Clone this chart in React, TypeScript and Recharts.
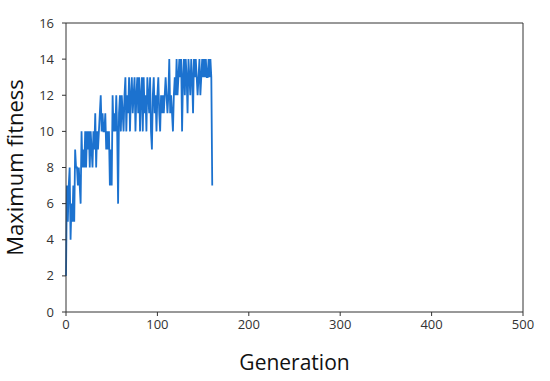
import { LineChart, Line, XAxis, YAxis, ReferenceLine } from "recharts";

// max fitness per generation (gen 0..160)
const fitness = [
  2, 7, 5, 7, 8, 4, 6, 5, 7, 5, 9, 8, 8, 7, 8, 7, 6, 10, 8, 9,
  8, 10, 8, 10, 9, 10, 8, 10, 9, 8, 10, 9, 11, 8, 10, 9, 10, 11, 12, 10,
  11, 10, 10, 11, 9, 10, 9, 10, 7, 9, 7, 12, 10, 11, 10, 12, 10, 6, 11, 12,
  10, 12, 11, 10, 12, 13, 10, 12, 11, 13, 10, 12, 13, 11, 12, 13, 10, 12, 13, 11,
  13, 10, 12, 13, 10, 13, 11, 12, 10, 13, 12, 11, 13, 10, 9, 12, 13, 11, 12, 10,
  12, 13, 11, 10, 12, 11, 12, 11, 12, 13, 12, 11, 12, 14, 11, 12, 11, 10, 12, 13,
  12, 14, 12, 13, 14, 13, 14, 10, 13, 14, 12, 14, 13, 11, 14, 13, 12, 14, 13, 11,
  14, 13, 14, 13, 12, 13, 14, 12, 13, 14, 13, 14, 13, 14, 13, 13, 14, 13, 14, 13,
  7,
];

const xTicks = [0, 100, 200, 300, 400, 500];
const yTicks = [0, 2, 4, 6, 8, 10, 12, 14, 16];

const data = fitness.map((v, i) => ({ gen: i, fitness: v }));

const axisColor = "#333";
const tickStyle = { fill: "#333", fontSize: 13, fontFamily: "Open Sans, sans-serif" };

export default function App() {
  return (
    <div style={{ position: "absolute", left: 0, top: 0, background: "#fff" }}>
      <LineChart
        width={550}
        height={381}
        data={data}
        margin={{ top: 23, right: 27, bottom: 0, left: 0 }}
      >
        <XAxis
          dataKey="gen"
          type="number"
          domain={[0, 500]}
          ticks={xTicks}
          height={69}
          stroke={axisColor}
          tickSize={4}
          tickMargin={4}
          tick={tickStyle}
          label={{
            content: ({ viewBox }: any) => (
              <text
                x={viewBox.x + viewBox.width / 2}
                y={370}
                textAnchor="middle"
                fontSize={21}
                fontFamily="Open Sans, sans-serif"
                fill="#111"
              >
                Generation
              </text>
            ),
          }}
        />
        <YAxis
          type="number"
          domain={[0, 16]}
          ticks={yTicks}
          width={66}
          stroke={axisColor}
          tickSize={4}
          tickMargin={8}
          tick={tickStyle}
          label={{
            content: ({ viewBox }: any) => (
              <text
                x={23}
                y={viewBox.y + viewBox.height / 2}
                transform={`rotate(-90, 23, ${viewBox.y + viewBox.height / 2})`}
                textAnchor="middle"
                fontSize={22}
                fontFamily="Open Sans, sans-serif"
                fill="#111"
              >
                Maximum fitness
              </text>
            ),
          }}
        />
        <ReferenceLine y={16} stroke={axisColor} />
        <ReferenceLine x={500} stroke={axisColor} />
        <Line
          type="linear"
          dataKey="fitness"
          stroke="#1c72cf"
          strokeWidth={1.8}
          dot={false}
          isAnimationActive={false}
        />
      </LineChart>
    </div>
  );
}
